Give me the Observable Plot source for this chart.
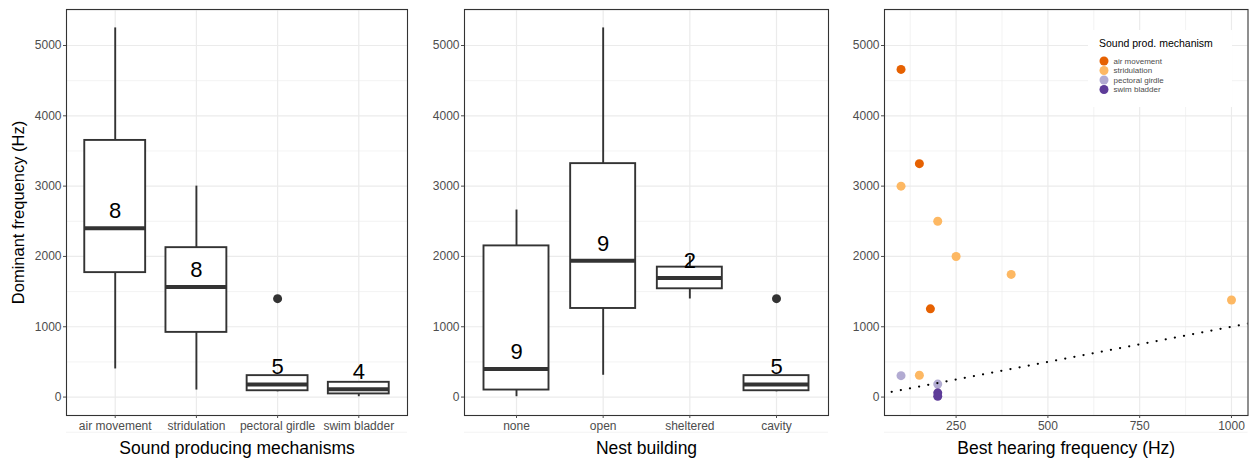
<!DOCTYPE html>
<html>
<head>
<meta charset="utf-8">
<script src="https://cdn.jsdelivr.net/npm/d3@7"></script>
<script src="https://cdn.jsdelivr.net/npm/@observablehq/plot@0.6"></script>
<style>
  body { margin: 0; background: white; }
  #root { position: relative; width: 1249px; height: 461px; overflow: hidden; font-family: "Liberation Sans", Arial, sans-serif; }
  .panel { position: absolute; top: 0; }
  #legend { position: absolute; left: 1088px; top: 30px; width: 144px; height: 77px; background: white; }
</style>
</head>
<body>
<div id="root"></div>
<script>
// ---------- Data ----------
const mechanisms = ["air movement", "stridulation", "pectoral girdle", "swim bladder"];
const mechColors = ["#e66101", "#fdb863", "#b2abd2", "#5e3c99"];
const mechMin = [400, 100, 75, 5];
const mechQ1 = [1770, 920, 90, 45];
const mechMedian = [2400, 1565, 180, 110];
const mechQ3 = [3650, 2125, 305, 210];
const mechMax = [5250, 3000, 305, 210];
const mechCount = [8, 8, 5, 4];
const mechOutlierCat = ["pectoral girdle"];
const mechOutlierValue = [1400];

const nests = ["none", "open", "sheltered", "cavity"];
const nestMin = [5, 310, 1395, 75];
const nestQ1 = [100, 1260, 1540, 90];
const nestMedian = [400, 1940, 1695, 180];
const nestQ3 = [2150, 3320, 1848, 305];
const nestMax = [2660, 5250, 2000, 305];
const nestCount = [9, 9, 2, 5];
const nestOutlierCat = ["cavity"];
const nestOutlierValue = [1400];

const scatterMechanism = ["air movement", "air movement", "air movement",
  "stridulation", "stridulation", "stridulation", "stridulation", "stridulation", "stridulation",
  "pectoral girdle", "pectoral girdle", "swim bladder", "swim bladder"];
const hearingFreq = [100, 150, 180, 100, 200, 250, 400, 1000, 150, 100, 200, 200, 200];
const dominantFreq = [4660, 3320, 1255, 3000, 2500, 2000, 1745, 1380, 310, 305, 185, 60, 10];

const yMajor = [0, 1000, 2000, 3000, 4000, 5000];
const yMinor = [-500, 500, 1500, 2500, 3500, 4500, 5500];
const xMajorHearing = [250, 500, 750, 1000];
const xMinorHearing = [125, 375, 625, 875];
const identityLine = [0, 1100];

const yTitle = "Dominant frequency (Hz)";
const xTitles = ["Sound producing mechanisms", "Nest building", "Best hearing frequency (Hz)"];
const legendTitle = "Sound prod. mechanism";

// ---------- Helpers ----------
const H = 461, MT = 9, MB = 46;
const yDomain = [-262, 5512];
const GRID = "#ebebeb", DARK = "#333333", TXT = "#4d4d4d";
const FONT = "'Liberation Sans', Arial, Helvetica, sans-serif";

function gridMarks() {
  return [
    Plot.ruleY(yMinor, {stroke: GRID, strokeWidth: 0.6}),
    Plot.ruleY(yMajor, {stroke: GRID, strokeWidth: 1.2})
  ];
}
function yAxisMarks() {
  return Plot.axisY({ticks: yMajor, tickFormat: d => String(d), tickSize: 3, tickPadding: 2, fontSize: 12, color: TXT, label: null});
}

function boxPanel(cats, mins, q1s, meds, q3s, maxs, counts, outCats, outVals, xTitle, width, ml, mr, withYTitle) {
  const rows = cats.map((c, k) => ({i: k + 1, cat: c, min: mins[k], q1: q1s[k], median: meds[k], q3: q3s[k], max: maxs[k], n: String(counts[k])}));
  const outs = outCats.map((c, k) => ({i: cats.indexOf(c) + 1, v: outVals[k]}));
  const marks = [
    ...gridMarks(),
    Plot.ruleX(rows, {x: "i", stroke: GRID, strokeWidth: 1.2}),
    Plot.ruleX(rows, {x: "i", y1: "q3", y2: "max", stroke: DARK, strokeWidth: 1.9}),
    Plot.ruleX(rows, {x: "i", y1: "min", y2: "q1", stroke: DARK, strokeWidth: 1.9}),
    Plot.rect(rows, {x1: d => d.i - 0.375, x2: d => d.i + 0.375, y1: "q1", y2: "q3", fill: "white", stroke: DARK, strokeWidth: 1.9}),
    Plot.ruleY(rows, {y: "median", x1: d => d.i - 0.375, x2: d => d.i + 0.375, stroke: DARK, strokeWidth: 4}),
    Plot.dot(outs, {x: "i", y: "v", r: 4.5, fill: DARK, stroke: null}),
    Plot.text(rows, {x: "i", y: "median", text: "n", dy: -17, fontSize: 22, lineAnchor: "middle", fill: "black"}),
    Plot.frame({stroke: DARK, strokeWidth: 1.1}),
    yAxisMarks(),
    Plot.axisX({ticks: rows.map(d => d.i), tickFormat: i => cats[i - 1], tickSize: 3, tickPadding: 3, fontSize: 12, color: TXT, label: null}),
    Plot.text([xTitle], {frameAnchor: "bottom", dy: 33, fontSize: 17.5, lineAnchor: "middle", fill: "black"})
  ];
  if (withYTitle) marks.push(Plot.text([yTitle], {frameAnchor: "left", dx: -48, rotate: -90, fontSize: 16.5, textAnchor: "middle", lineAnchor: "middle", fill: "black"}));
  return Plot.plot({
    width, height: H, marginTop: MT, marginBottom: MB, marginLeft: ml, marginRight: mr,
    x: {domain: [0.4, 4.6], axis: null},
    y: {domain: yDomain, axis: null},
    style: {fontFamily: FONT, background: "white", overflow: "visible"},
    marks
  });
}

function scatterPanel(width, ml, mr) {
  const pts = hearingFreq.map((h, k) => ({h, d: dominantFreq[k], m: scatterMechanism[k]}));
  return Plot.plot({
    width, height: H, marginTop: MT, marginBottom: MB, marginLeft: ml, marginRight: mr,
    x: {domain: [55, 1045], axis: null},
    y: {domain: yDomain, axis: null},
    color: {domain: mechanisms, range: mechColors},
    style: {fontFamily: FONT, background: "white", overflow: "visible"},
    marks: [
      ...gridMarks(),
      Plot.ruleX(xMinorHearing, {stroke: GRID, strokeWidth: 0.6}),
      Plot.ruleX(xMajorHearing, {stroke: GRID, strokeWidth: 1.2}),
      Plot.dot(pts, {x: "h", y: "d", fill: "m", r: 4.5, stroke: null}),
      Plot.line(identityLine, {x: d => d, y: d => d, stroke: "black", strokeWidth: 2.3, strokeDasharray: "0,9.3", strokeLinecap: "round", clip: true}),
      Plot.frame({stroke: DARK, strokeWidth: 1.1}),
      yAxisMarks(),
      Plot.axisX({ticks: xMajorHearing, tickFormat: d => String(d), tickSize: 3, tickPadding: 3, fontSize: 12, color: TXT, label: null}),
      Plot.text([xTitles[2]], {frameAnchor: "bottom", dy: 33, fontSize: 17.5, lineAnchor: "middle", fill: "black"})
    ]
  });
}

// ---------- Render ----------
const root = document.getElementById("root");
function place(el, left) {
  el.classList.add("panel");
  el.style.left = left + "px";
  root.appendChild(el);
}
place(boxPanel(mechanisms, mechMin, mechQ1, mechMedian, mechQ3, mechMax, mechCount, mechOutlierCat, mechOutlierValue, xTitles[0], 410, 66, 3, true), 0);
place(boxPanel(nests, nestMin, nestQ1, nestMedian, nestQ3, nestMax, nestCount, nestOutlierCat, nestOutlierValue, xTitles[1], 420, 54, 2, false), 410);
place(scatterPanel(419, 54, 1.5), 830);

// Legend (inside the scatter panel)
const leg = d3.select(root).append("div").attr("id", "legend");
const lsvg = leg.append("svg").attr("width", 144).attr("height", 77).style("font-family", FONT);
lsvg.append("text").attr("x", 11).attr("y", 17).attr("font-size", 10.5).attr("fill", "black").text(legendTitle);
const items = lsvg.selectAll("g.item").data(mechanisms).join("g").attr("class", "item")
  .attr("transform", (d, k) => `translate(16,${31 + k * 9.5})`);
items.append("circle").attr("r", 4.5).attr("fill", (d, k) => mechColors[k]);
items.append("text").attr("x", 9.5).attr("dy", "0.35em").attr("font-size", 8).attr("fill", TXT).text(d => d);
</script>
</body>
</html>
